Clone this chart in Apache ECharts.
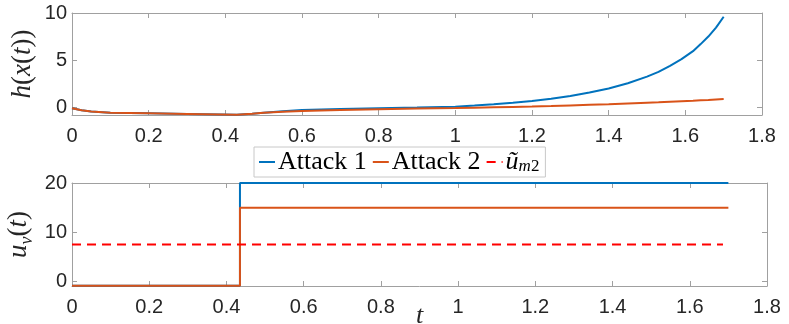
<!DOCTYPE html>
<html><head><meta charset="utf-8">
<script src="https://cdn.jsdelivr.net/npm/echarts@6/dist/echarts.min.js"></script>
<style>html,body{margin:0;padding:0;background:#fff}#c{width:789px;height:324px}</style>
</head><body><div id="c"></div>
<script>
// ---- data ----
const tH = [0,0.025,0.05,0.1,0.2,0.3,0.43,0.47,0.5,0.55,0.6,0.7,0.8,0.9,1.0,1.05,1.1,1.15,1.2,1.25,1.3,1.35,1.4,1.45,1.5,1.53,1.56,1.59,1.62,1.64,1.66,1.68,1.7];
const hAttack1 = [-0.1,-0.32,-0.45,-0.57,-0.64,-0.71,-0.8,-0.68,-0.57,-0.43,-0.3,-0.18,-0.1,-0.03,0.05,0.18,0.33,0.49,0.67,0.9,1.2,1.56,2.0,2.55,3.25,3.75,4.4,5.1,5.95,6.7,7.5,8.45,9.6];
const hAttack2 = [-0.1,-0.32,-0.45,-0.57,-0.64,-0.71,-0.8,-0.68,-0.57,-0.47,-0.39,-0.28,-0.21,-0.14,-0.08,-0.04,0,0.04,0.07,0.13,0.2,0.26,0.32,0.4,0.48,0.53,0.59,0.65,0.7,0.74,0.78,0.83,0.88];
const tU = [0,0.435,0.435,1.7];
const uAttack1 = [-0.85,-0.85,20,20];
const uAttack2 = [-0.85,-0.85,15,15];
const tRef = [0,1.686];
const uRef = [7.5,7.5];
const hTicks = [0,5,10];
const uTicks = [0,10,20];
const names = ['Attack 1','Attack 2','u_m2'];

const zip = (a,b) => a.map((v,i)=>[v,b[i]]);
const gray = '#a0a0a0';
const tickFont = {fontFamily:'Liberation Sans', fontSize:20, color:'#262626'};
const serif = 'Liberation Serif';

function xAx(grid, pos, labels, extra){
  return Object.assign({gridIndex:grid, type:'value', min:0, max:1.8, interval:0.2, position:pos,
    axisLine:{show:true, onZero:false, lineStyle:{color:gray,width:1}},
    axisTick:{show:true, inside:true, length:5, lineStyle:{color:gray}},
    axisLabel:Object.assign({show:labels, margin:11}, tickFont),
    splitLine:{show:false}}, extra||{});
}
function yAx(grid, pos, labels, mn, mx, ticks, extra){
  return Object.assign({gridIndex:grid, type:'value', min:mn, max:mx, position:pos,
    axisLine:{show:true, onZero:false, lineStyle:{color:gray,width:1}},
    axisTick:{show:true, inside:true, length:5, customValues:ticks, lineStyle:{color:gray}},
    axisLabel:Object.assign({show:labels, margin:5, customValues:ticks}, tickFont),
    splitLine:{show:false}}, extra||{});
}
const richName = {
  i:{fontFamily:serif, fontStyle:'italic', fontSize:27, color:'#262626'},
  r:{fontFamily:serif, fontSize:27, color:'#262626'},
  sub:{fontFamily:serif, fontStyle:'italic', fontSize:18, color:'#262626', padding:[16,0,0,0]}
};

const chart = echarts.init(document.getElementById('c'), null, {renderer:'canvas'});
chart.setOption({
  animation:false,
  backgroundColor:'#fff',
  grid:[
    {left:72, top:13, width:690, height:102, outerBoundsMode:'none', containLabel:false},
    {left:72, top:183, width:695, height:103, outerBoundsMode:'none', containLabel:false}
  ],
  legend:{
    left:254, top:147, data:names, itemWidth:16, itemHeight:2, itemGap:5,
    padding:[2,6,2,4], borderColor:'#c8c8c8', borderWidth:1, backgroundColor:'#fff',
    textStyle:{fontFamily:serif, fontSize:26, color:'#000', padding:[0,0,0,-2],
      rich:{
        u:{fontFamily:serif, fontStyle:'italic', fontSize:26, color:'#000'},
        m:{fontFamily:serif, fontStyle:'italic', fontSize:17, color:'#000', padding:[9,0,0,0]},
        n:{fontFamily:serif, fontSize:17, color:'#000', padding:[9,0,0,0]}
      }},
    formatter: n => n==='u_m2' ? '{u|ũ}{m|m}{n|2}' : n
  },
  xAxis:[
    xAx(0,'bottom',true),
    xAx(0,'top',false),
    xAx(1,'bottom',true,{name:'t', nameLocation:'middle', nameGap:17, nameMoveOverlap:false,
      nameTextStyle:{fontFamily:serif, fontStyle:'italic', fontSize:26, color:'#262626'}}),
    xAx(1,'top',false)
  ],
  yAxis:[
    yAx(0,'left',true,-0.82,10,hTicks,{name:'{i|h}{r|(}{i|x}{r|(}{i|t}{r|))}', nameLocation:'middle', nameGap:36,
      nameMoveOverlap:false, nameTextStyle:{rich:richName}}),
    yAx(0,'right',false,-0.82,10,hTicks),
    yAx(1,'left',true,-0.9,20,uTicks,{name:'{i|u}{sub|v}{r|(}{i|t}{r|)}', nameLocation:'middle', nameGap:36,
      nameMoveOverlap:false, nameTextStyle:{rich:richName}}),
    yAx(1,'right',false,-0.9,20,uTicks)
  ],
  series:[
    {name:'Attack 1', type:'line', xAxisIndex:0, yAxisIndex:0, data:zip(tH,hAttack1), showSymbol:false, symbol:'none',
      lineStyle:{color:'#0072BD', width:2}, itemStyle:{color:'#0072BD'}},
    {name:'Attack 2', type:'line', xAxisIndex:0, yAxisIndex:0, data:zip(tH,hAttack2), showSymbol:false, symbol:'none',
      lineStyle:{color:'#D95319', width:2}, itemStyle:{color:'#D95319'}},
    {name:'Attack 1', type:'line', xAxisIndex:2, yAxisIndex:2, data:zip(tU,uAttack1), showSymbol:false, symbol:'none', clip:false,
      lineStyle:{color:'#0072BD', width:2}, itemStyle:{color:'#0072BD'}},
    {name:'Attack 2', type:'line', xAxisIndex:2, yAxisIndex:2, data:zip(tU,uAttack2), showSymbol:false, symbol:'none', clip:false,
      lineStyle:{color:'#D95319', width:2}, itemStyle:{color:'#D95319'}},
    {name:'u_m2', type:'line', xAxisIndex:2, yAxisIndex:2, data:zip(tRef,uRef), showSymbol:false, symbol:'none',
      lineStyle:{color:'#FF0000', width:2, type:[9,6]}, itemStyle:{color:'#FF0000'}}
  ]
});
</script></body></html>
